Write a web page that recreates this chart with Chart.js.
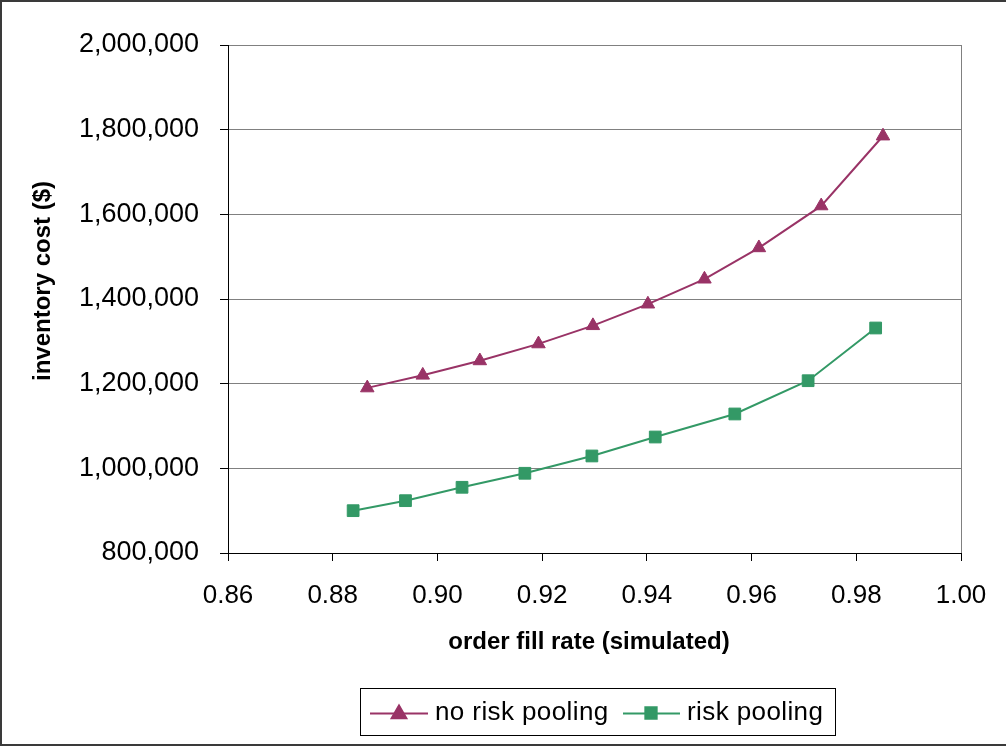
<!DOCTYPE html>
<html>
<head>
<meta charset="utf-8">
<script src="https://cdn.jsdelivr.net/npm/chart.js@4/dist/chart.umd.min.js"></script>
<style>
  html, body { margin: 0; padding: 0; background: #fff; }
  canvas { display: block; }
</style>
</head>
<body>
<canvas id="c" width="1006" height="747"></canvas>
<script>
// ---- data ----
const seriesNames = ['no risk pooling', 'risk pooling'];
const fillNoPool = [0.8866, 0.8972, 0.9081, 0.9193, 0.9297, 0.9402, 0.9510, 0.9614, 0.9733, 0.9851];
const costNoPool = [1190000, 1220000, 1254000, 1294000, 1337000, 1388000, 1447000, 1521000, 1620000, 1785000];
const fillPool = [0.8839, 0.8939, 0.9047, 0.9167, 0.9295, 0.9416, 0.9568, 0.9708, 0.9837];
const costPool = [900000, 923600, 955200, 988300, 1029200, 1074000, 1128400, 1207000, 1331500];
const xTicks = [0.86, 0.88, 0.90, 0.92, 0.94, 0.96, 0.98, 1.00];
const yTicks = [800000, 1000000, 1200000, 1400000, 1600000, 1800000, 2000000];
const xTitle = 'order fill rate (simulated)';
const yTitle = 'inventory cost ($)';

const PURPLE = '#993366';
const GREEN = '#339966';
const FONT = '"Liberation Sans", Arial, sans-serif';

const toPoints = (xs, ys) => xs.map((x, i) => ({ x: x, y: ys[i] }));

const decorPlugin = {
  id: 'decor',
  afterDraw(chart) {
    const ctx = chart.ctx;
    ctx.save();
    // outer frame (left, top, bottom)
    ctx.strokeStyle = '#3a3a3a';
    ctx.lineWidth = 2;
    ctx.beginPath();
    ctx.moveTo(1, 745);
    ctx.lineTo(1, 1);
    ctx.lineTo(1006, 1);
    ctx.moveTo(0, 745);
    ctx.lineTo(1006, 745);
    ctx.stroke();

    // axis titles
    ctx.fillStyle = '#000';
    ctx.font = 'bold 24px ' + FONT;
    ctx.textAlign = 'center';
    ctx.textBaseline = 'middle';
    ctx.fillText(xTitle, 589, 642);
    ctx.save();
    ctx.translate(43, 281);
    ctx.rotate(-Math.PI / 2);
    ctx.fillText(yTitle, 0, 0);
    ctx.restore();

    // legend
    ctx.strokeStyle = '#000';
    ctx.lineWidth = 1;
    ctx.strokeRect(360.5, 688.5, 475, 47);
    const ly = 713;
    const items = [
      { ds: chart.data.datasets[0], x0: 370, x1: 428, mx: 399, tx: 435 },
      { ds: chart.data.datasets[1], x0: 623, x1: 680, mx: 651, tx: 687 }
    ];
    items.forEach(it => {
      ctx.strokeStyle = it.ds.borderColor;
      ctx.lineWidth = 2;
      ctx.beginPath();
      ctx.moveTo(it.x0, ly + 0.5);
      ctx.lineTo(it.x1, ly + 0.5);
      ctx.stroke();
      ctx.fillStyle = it.ds.pointBackgroundColor;
      ctx.strokeStyle = it.ds.pointBorderColor;
      Chart.helpers.drawPoint(ctx, {
        pointStyle: it.ds.pointStyle,
        radius: it.ds.pointStyle === 'triangle' ? 8.5 : 8,
        rotation: 0,
        borderWidth: 1
      }, it.mx, it.ds.pointStyle === 'triangle' ? ly + 1 : ly);
      ctx.fillStyle = '#000';
      ctx.font = '26px ' + FONT;
      ctx.textAlign = 'left';
      ctx.textBaseline = 'middle';
      if ('letterSpacing' in ctx) ctx.letterSpacing = '0.4px';
      ctx.fillText(it.ds.label, it.tx, ly);
      if ('letterSpacing' in ctx) ctx.letterSpacing = '0px';
    });
    ctx.restore();
  }
};

new Chart(document.getElementById('c'), {
  type: 'line',
  data: {
    datasets: [
      {
        label: seriesNames[0],
        data: toPoints(fillNoPool, costNoPool),
        borderColor: PURPLE,
        backgroundColor: PURPLE,
        pointBackgroundColor: PURPLE,
        pointBorderColor: PURPLE,
        pointStyle: 'triangle',
        pointRadius: 7.8,
        pointBorderWidth: 1,
        borderWidth: 2,
        tension: 0,
        fill: false
      },
      {
        label: seriesNames[1],
        data: toPoints(fillPool, costPool),
        borderColor: GREEN,
        backgroundColor: GREEN,
        pointBackgroundColor: GREEN,
        pointBorderColor: GREEN,
        pointStyle: 'rect',
        pointRadius: 8.3,
        pointBorderWidth: 1,
        borderWidth: 2,
        tension: 0,
        fill: false
      }
    ]
  },
  options: {
    responsive: false,
    animation: false,
    devicePixelRatio: 1,
    layout: { padding: { top: 45, right: 45, left: 0, bottom: 0 } },
    plugins: {
      legend: { display: false },
      tooltip: { enabled: false },
      title: { display: false }
    },
    scales: {
      x: {
        type: 'linear',
        min: 0.86,
        max: 1.00,
        afterBuildTicks: (scale) => { scale.ticks = xTicks.map(v => ({ value: v })); },
        afterFit: (scale) => { scale.height = 194; },
        ticks: {
          font: { family: FONT, size: 26 },
          color: '#000',
          padding: 19,
          maxRotation: 0,
          autoSkip: false,
          callback: (v) => Number(v).toFixed(2)
        },
        grid: {
          drawOnChartArea: true,
          drawTicks: true,
          tickLength: 8,
          tickColor: '#000',
          color: (c) => (c.index === xTicks.length - 1 ? '#808080' : 'rgba(0,0,0,0)'),
          lineWidth: 1
        },
        border: { display: true, color: '#000', width: 1 }
      },
      y: {
        type: 'linear',
        min: 800000,
        max: 2000000,
        afterBuildTicks: (scale) => { scale.ticks = yTicks.map(v => ({ value: v })); },
        afterFit: (scale) => { scale.width = 228; },
        ticks: {
          font: { family: FONT, size: 27 },
          color: '#000',
          padding: 21,
          autoSkip: false,
          callback: (v) => Number(v).toLocaleString('en-US')
        },
        grid: {
          drawTicks: true,
          tickLength: 8,
          tickColor: '#000',
          color: '#808080',
          lineWidth: 1
        },
        border: { display: true, color: '#000', width: 1 }
      }
    }
  },
  plugins: [decorPlugin]
});
</script>
</body>
</html>
